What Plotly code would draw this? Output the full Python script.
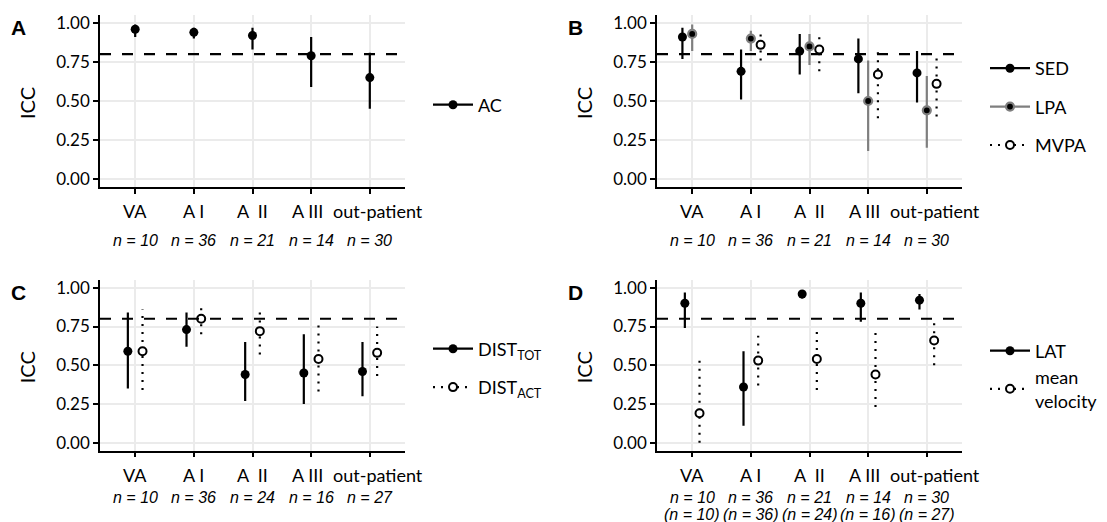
import plotly.graph_objects as go

W, H = 1107, 522

# ---------------- data ----------------
categories = ["VA", "A I", "A II", "A III", "out-patient"]
cat_pos = [1, 2, 3, 4, 5]

n_A = [10, 36, 21, 14, 30]
n_B = [10, 36, 21, 14, 30]
n_C = [10, 36, 24, 16, 27]
n_D_lat = [10, 36, 21, 14, 30]
n_D_vel = [10, 36, 24, 16, 27]

threshold = 0.8

# Panel A
ac_est = [0.96, 0.94, 0.92, 0.79, 0.65]
ac_lo = [0.91, 0.90, 0.83, 0.59, 0.45]
ac_hi = [0.99, 0.97, 0.97, 0.91, 0.81]

# Panel B
sed_est = [0.91, 0.69, 0.82, 0.77, 0.68]
sed_lo = [0.77, 0.51, 0.67, 0.55, 0.49]
sed_hi = [0.97, 0.83, 0.93, 0.90, 0.82]
lpa_est = [0.93, 0.90, 0.85, 0.50, 0.44]
lpa_lo = [0.82, 0.82, 0.73, 0.18, 0.20]
lpa_hi = [0.99, 0.95, 0.93, 0.76, 0.66]
mvpa_est = [None, 0.86, 0.83, 0.67, 0.61]
mvpa_lo = [None, 0.76, 0.69, 0.39, 0.40]
mvpa_hi = [None, 0.93, 0.92, 0.85, 0.78]

# Panel C
tot_est = [0.59, 0.73, 0.44, 0.45, 0.46]
tot_lo = [0.35, 0.62, 0.27, 0.25, 0.30]
tot_hi = [0.84, 0.84, 0.65, 0.70, 0.65]
act_est = [0.59, 0.80, 0.72, 0.54, 0.58]
act_lo = [0.34, 0.70, 0.57, 0.33, 0.43]
act_hi = [0.86, 0.88, 0.85, 0.77, 0.75]

# Panel D
lat_est = [0.90, 0.36, 0.96, 0.90, 0.92]
lat_lo = [0.74, 0.11, 0.93, 0.78, 0.86]
lat_hi = [0.97, 0.59, 0.98, 0.97, 0.96]
vel_est = [0.19, 0.53, 0.54, 0.44, 0.66]
vel_lo = [0.00, 0.37, 0.34, 0.23, 0.50]
vel_hi = [0.54, 0.69, 0.74, 0.72, 0.80]

yticks = [0.0, 0.25, 0.5, 0.75, 1.0]
yticktext = ["0.00", "0.25", "0.50", "0.75", "1.00"]

# ---------------- styles ----------------
GREY = "#7f7f7f"
DOT = "2px,6px"
STY_SOLID = dict(lcol="black", dash="solid", mcol="black", msize=9, mlcol="black", mlw=0)
STY_GREY = dict(lcol=GREY, dash="solid", mcol="black", msize=8, mlcol=GREY, mlw=2.2)
STY_OPEN = dict(lcol="black", dash=DOT, mcol="white", msize=8, mlcol="black", mlw=2)

SANS = "Lato"
TICKFONT = dict(family=SANS, size=17, color="black")
XTICKFONT = dict(family=SANS, size=18, color="black")
LEGFONT = dict(family=SANS, size=18, color="black")
NFONT = dict(family="Liberation Sans", size=16, color="black")

NB = "\u00a0"
# category label text/placement as in the original
cat_text = {"A II": "A" + NB * 2 + "II"}
cat_shift = {"A III": -4, "out-patient": 8}


def px(x):
    return x / W


def py(y):
    return 1 - y / H


panels = {
    # name: (axis suffix, x pixel domain, y pixel domain)
    "A": ("", (100, 405), (15.2, 186.8)),
    "B": ("2", (657, 962), (15.2, 186.8)),
    "C": ("3", (100, 405), (280.0, 450.5)),
    "D": ("4", (657, 962), (280.0, 450.5)),
}

fig = go.Figure()


def add_series(panel, idx, k, est, lo, hi, sty, name, legend):
    suf = panels[panel][0]
    off = (idx - (k - 1) / 2) * 0.5 / k
    xs, ys, mx, my = [], [], [], []
    for c, e, l, h in zip(cat_pos, est, lo, hi):
        if e is None:
            continue
        xs += [c + off, c + off, None]
        ys += [l, h, None]
        mx.append(c + off)
        my.append(e)
    xa, ya = "x" + suf, "y" + suf
    fig.add_trace(go.Scatter(x=xs, y=ys, mode="lines", xaxis=xa, yaxis=ya,
                             line=dict(color=sty["lcol"], width=2.2, dash=sty["dash"]),
                             showlegend=False, hoverinfo="skip"))
    fig.add_trace(go.Scatter(x=mx, y=my, mode="markers", xaxis=xa, yaxis=ya,
                             marker=dict(color=sty["mcol"], size=sty["msize"],
                                         line=dict(color=sty["mlcol"], width=sty["mlw"])),
                             showlegend=False))
    # legend key (line + point)
    fig.add_trace(go.Scatter(x=[None], y=[None], mode="lines+markers", xaxis=xa, yaxis=ya,
                             name=name, legend=legend, legendgroup=panel + name,
                             line=dict(color=sty["lcol"], width=2.2, dash=sty["dash"]),
                             marker=dict(color=sty["mcol"], size=sty["msize"],
                                         line=dict(color=sty["mlcol"], width=sty["mlw"]))))


add_series("A", 0, 1, ac_est, ac_lo, ac_hi, STY_SOLID, "AC", "legend")
add_series("B", 0, 3, sed_est, sed_lo, sed_hi, STY_SOLID, "SED", "legend2")
add_series("B", 1, 3, lpa_est, lpa_lo, lpa_hi, STY_GREY, "LPA", "legend2")
add_series("B", 2, 3, mvpa_est, mvpa_lo, mvpa_hi, STY_OPEN, "MVPA", "legend2")
add_series("C", 0, 2, tot_est, tot_lo, tot_hi, STY_SOLID, "DIST<sub>TOT</sub>", "legend3")
add_series("C", 1, 2, act_est, act_lo, act_hi, STY_OPEN, "DIST<sub>ACT</sub>", "legend3")
add_series("D", 0, 2, lat_est, lat_lo, lat_hi, STY_SOLID, "LAT", "legend4")
add_series("D", 1, 2, vel_est, vel_lo, vel_hi, STY_OPEN, "mean<br>velocity", "legend4")

layout = dict(
    width=W, height=H, margin=dict(l=0, r=0, t=0, b=0, autoexpand=False),
    paper_bgcolor="white", plot_bgcolor="white",
)

annotations = []
shapes = []
for pname, (suf, xd, yd) in panels.items():
    xa = dict(domain=[px(xd[0]), px(xd[1])], range=[0.4, 5.6], anchor="y" + suf,
              tickvals=cat_pos, showticklabels=False,
              showgrid=True, gridcolor="#ebebeb", gridwidth=1.6, zeroline=False,
              showline=True, linecolor="black", linewidth=1.7, automargin=False,
              ticks="outside", ticklen=5, tickwidth=1.6, tickcolor="black",
              fixedrange=True)
    ya = dict(domain=[py(yd[1]), py(yd[0])], range=[-0.05, 1.05], anchor="x" + suf,
              tickvals=yticks, ticktext=yticktext, tickfont=TICKFONT, tickangle=0,
              showgrid=True, gridcolor="#ebebeb", gridwidth=1.6, zeroline=False,
              showline=True, linecolor="black", linewidth=1.7, automargin=False,
              ticks="outside", ticklen=5, tickwidth=1.6, tickcolor="black",
              fixedrange=True)
    layout["xaxis" + suf] = xa
    layout["yaxis" + suf] = ya
    # category labels under the x axis
    for c, cat in zip(cat_pos, categories):
        annotations.append(dict(text=cat_text.get(cat, cat), xref="x" + suf, yref="paper",
                                x=c, y=py(yd[1] + 24.5), xshift=cat_shift.get(cat, 0),
                                xanchor="center", yanchor="middle", showarrow=False,
                                font=XTICKFONT))
    # threshold line
    shapes.append(dict(type="line", xref="x" + suf + " domain", yref="y" + suf,
                       x0=0, x1=1, y0=threshold, y1=threshold,
                       line=dict(color="black", width=2.2, dash="11px,11px"), layer="above"))
    # panel letter
    annotations.append(dict(text="<b>%s</b>" % pname, xref="paper", yref="paper",
                            x=px(xd[0] - 82), y=py(yd[0] + 12), xanchor="center", yanchor="middle",
                            showarrow=False, font=dict(family="Liberation Sans", size=21, color="black")))
    # y title
    annotations.append(dict(text="ICC", xref="paper", yref="paper", textangle=-90,
                            x=px(xd[0] - 73), y=py((yd[0] + yd[1]) / 2 + 2), xanchor="center", yanchor="middle",
                            showarrow=False, font=dict(family=SANS, size=20, color="black")))

# n labels
def n_labels(suf, ns, ypix, fmt):
    for c, n in zip(cat_pos, ns):
        annotations.append(dict(text="<i>" + fmt % n + "</i>", xref="x" + suf, yref="paper",
                                x=c, y=py(ypix), xanchor="center", yanchor="middle",
                                showarrow=False, font=NFONT))

n_labels("", n_A, 240, "n = %d")
n_labels("2", n_B, 240, "n = %d")
n_labels("3", n_C, 497, "n = %d")
n_labels("4", n_D_lat, 497, "n = %d")
n_labels("4", n_D_vel, 514, "(n = %d)")

legend_common = dict(font=LEGFONT, bgcolor="rgba(0,0,0,0)", xanchor="left", yanchor="middle",
                     tracegroupgap=12, itemwidth=40, itemclick=False, itemdoubleclick=False)
layout["legend"] = dict(legend_common, x=px(428), y=py(105))
layout["legend2"] = dict(legend_common, x=px(985), y=py(107))
layout["legend3"] = dict(legend_common, x=px(428), y=py(368))
layout["legend4"] = dict(legend_common, x=px(985), y=py(376), tracegroupgap=0)

layout["annotations"] = annotations
layout["shapes"] = shapes
fig.update_layout(**layout)

fig.write_html("out.html")
